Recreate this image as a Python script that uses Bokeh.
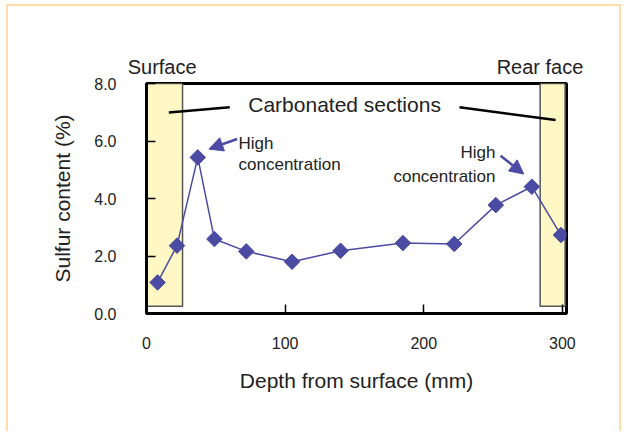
import numpy as np
from bokeh.plotting import figure
from bokeh.models import (Range1d, FixedTicker, Label, Arrow, NormalHead, ColumnDataSource, LinearAxis)
from bokeh.embed import file_html
from bokeh.resources import INLINE

# ---- data ----
depth_mm = [8, 22, 37, 49, 72, 105, 140, 185, 222, 252, 278, 299]
sulfur_pct = [1.08, 2.36, 5.43, 2.59, 2.16, 1.80, 2.18, 2.45, 2.42, 3.77, 4.41, 2.73]
x_ticks = [0, 100, 200, 300]
y_ticks = [0, 2, 4, 6, 8]
y_tick_labels = ["0.0", "2.0", "4.0", "6.0", "8.0"]
carbonated_left = [-1.5, 26]
carbonated_right = [284, 302]
face_pos = [11.3, 283.9]
face_labels = ["Surface", "Rear face"]

FONT = "Liberation Sans"
TXT = "#222222"
BLUE = "#4B4BA3"
BORDER = "#FFDDA8"

W, H = 622, 431
p = figure(width=W, height=H, output_backend="svg", toolbar_location=None,
           x_range=Range1d(0, 303), y_range=Range1d(0, 8),
           frame_width=420, frame_height=230,
           min_border_left=146, min_border_top=83, min_border_right=W - 566, min_border_bottom=H - 313)
g = f"linear-gradient({BORDER},{BORDER})"
p.styles = {"background": f"{g} 6px 4px / 2px 100% no-repeat, {g} 6px 4px / 100% 2px no-repeat, "
                          f"{g} 619px 4px / 2px 100% no-repeat, white"}
p.grid.visible = False
p.background_fill_color = "white"
p.border_fill_color = None
p.outline_line_color = "black"
p.outline_line_width = 3

for ax in (p.xaxis[0], p.yaxis[0]):
    ax.axis_line_color = "black"
    ax.axis_line_width = 3
    ax.major_tick_in = 9
    ax.major_tick_out = 0
    ax.major_tick_line_color = "black"
    ax.major_tick_line_width = 1.5
    ax.minor_tick_line_color = None
    ax.major_label_text_font = FONT
    ax.major_label_text_font_size = "16px"
    ax.major_label_text_color = TXT
    ax.axis_label_text_font = FONT
    ax.axis_label_text_font_size = "21px"
    ax.axis_label_text_font_style = "normal"
    ax.axis_label_text_color = TXT

p.xaxis.ticker = FixedTicker(ticks=x_ticks)
p.yaxis.ticker = FixedTicker(ticks=y_ticks)
p.yaxis.major_label_overrides = {t: l for t, l in zip(y_ticks, y_tick_labels)}
p.xaxis.axis_label = "Depth from surface (mm)"
p.yaxis.axis_label = "Sulfur content (%)"
p.xaxis.major_label_standoff = 23
p.yaxis.major_label_standoff = 30
p.xaxis.axis_label_standoff = 17
p.yaxis.axis_label_standoff = 17

# "Surface" / "Rear face" captions above the frame
top_ax = LinearAxis(ticker=FixedTicker(ticks=face_pos),
                    major_label_overrides={t: l for t, l in zip(face_pos, face_labels)},
                    axis_line_color=None, major_tick_line_color=None, minor_tick_line_color=None,
                    major_tick_in=0, major_tick_out=0, major_label_standoff=6,
                    major_label_text_font=FONT, major_label_text_font_size="20px",
                    major_label_text_color=TXT)
p.add_layout(top_ax, "above")

# carbonated sections
p.quad(left=[carbonated_left[0], carbonated_right[0]], right=[carbonated_left[1], carbonated_right[1]],
       bottom=[0.25, 0.25], top=[8, 8], fill_color="#FFF8C4", line_color="#555555", line_width=1.5)

# data
src = ColumnDataSource(dict(x=depth_mm, y=sulfur_pct))
p.line("x", "y", source=src, line_color=BLUE, line_width=1.5)
p.scatter("x", "y", source=src, marker="square", angle=np.pi / 4, size=11,
          fill_color=BLUE, line_color=BLUE)

def lab(x, y, t, size="20px", align="left"):
    p.add_layout(Label(x=x, y=y, text=t, text_font=FONT, text_font_size=size,
                       text_color=TXT, text_align=align, text_baseline="middle"))

lab(142.9, 7.26, "Carbonated sections", "21px", "center")
lab(66.4, 5.90, "High", "17px")
lab(66.4, 5.18, "concentration", "17px")
lab(251.8, 5.60, "High", "17px", "right")
lab(251.8, 4.76, "concentration", "17px", "right")

p.line([16.1, 60.1], [6.99, 7.17], line_color="black", line_width=2.5)
p.line([225.8, 295.1], [7.17, 6.73], line_color="black", line_width=2.5)

for (x0, y0, x1, y1) in [(65.4, 6.07, 45.0, 5.72), (255.4, 5.49, 272.2, 4.85)]:
    p.add_layout(Arrow(x_start=x0, y_start=y0, x_end=x1, y_end=y1, line_color=BLUE, line_width=2.5,
                       end=NormalHead(size=14, fill_color=BLUE, line_color=BLUE)))

open("out.html", "w").write(file_html(p, INLINE))
